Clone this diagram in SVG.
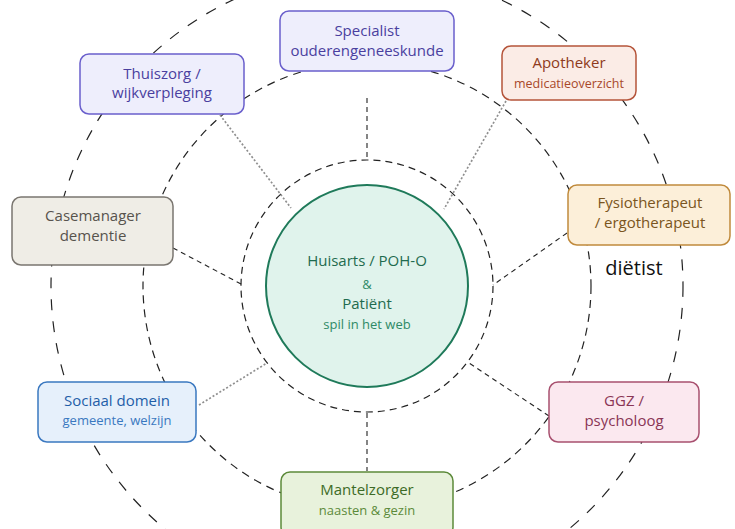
<svg xmlns="http://www.w3.org/2000/svg" width="735" height="529" viewBox="0 0 735 529">
<style>
text{font-family:"Open Sans","Noto Sans","Liberation Sans",sans-serif;text-anchor:middle}
.t{font-size:15px}
.s{font-size:13px}
.ring{fill:none;stroke:#222;stroke-width:1.2}
.dash{fill:none;stroke:#222;stroke-width:1.1;stroke-dasharray:5 4}
.dot{fill:none;stroke:#8f8f8f;stroke-width:1.7;stroke-dasharray:2 2}
.box{stroke-width:1.5}
</style>
<rect width="735" height="529" fill="#fff"/>
<g id="rings">
<circle class="ring" cx="367" cy="286" r="316" stroke-dasharray="11 11"/>
<circle class="ring" cx="367" cy="286" r="224" stroke-dasharray="8 6"/>
<circle class="ring" cx="367" cy="286" r="126" stroke-dasharray="7 5"/>
</g>
<g id="connectors">
<line class="dash" x1="367" y1="98" x2="367" y2="160"/>
<line class="dash" x1="367" y1="413" x2="367" y2="471"/>
<line class="dot" x1="220" y1="115" x2="291" y2="208"/>
<line class="dot" x1="506" y1="101" x2="444" y2="209"/>
<line class="dash" x1="173" y1="248" x2="243" y2="285"/>
<line class="dash" x1="567" y1="233" x2="493" y2="285"/>
<line class="dot" x1="199" y1="405" x2="267" y2="363"/>
<line class="dash" x1="549" y1="416" x2="469" y2="363"/>
</g>
<g id="center">
<circle cx="367" cy="286" r="101" fill="#e0f3ec" stroke="#1f7a5a" stroke-width="2"/>
<text class="t" x="367" y="266" fill="#1f6b4f">Huisarts / POH-O</text>
<text class="s" x="367" y="289" fill="#2e8a66">&amp;</text>
<text class="t" x="367" y="309" fill="#1f6b4f">Patiënt</text>
<text class="s" x="367" y="329" fill="#2e8a66">spil in het web</text>
</g>
<g id="specialist">
<rect class="box" x="280" y="11" width="174" height="60" rx="9" fill="#eeeefc" stroke="#6a5fcc"/>
<text class="t" x="367" y="36" fill="#4a3f9f">Specialist</text>
<text class="t" x="367" y="56" fill="#4a3f9f">ouderengeneeskunde</text>
</g>
<g id="apotheker">
<rect class="box" x="502" y="46" width="134" height="54" rx="9" fill="#fbece6" stroke="#b5543a"/>
<text class="t" x="569" y="68" fill="#8e3a20">Apotheker</text>
<text x="569" y="88" font-size="12.5" fill="#a8482a">medicatieoverzicht</text>
</g>
<g id="thuiszorg">
<rect class="box" x="80" y="54" width="164" height="60" rx="9" fill="#eeeefc" stroke="#6a5fcc"/>
<text class="t" x="162" y="79" fill="#4a3f9f">Thuiszorg /</text>
<text class="t" x="162" y="98" fill="#4a3f9f">wijkverpleging</text>
</g>
<g id="casemanager">
<rect class="box" x="12" y="197" width="161" height="68" rx="9" fill="#efede6" stroke="#7a7670"/>
<text class="t" x="93" y="221" fill="#57534d">Casemanager</text>
<text class="t" x="93" y="241" fill="#57534d">dementie</text>
</g>
<g id="fysiotherapeut">
<rect class="box" x="568" y="185" width="162" height="60" rx="9" fill="#fcefd9" stroke="#c08a3c"/>
<text class="t" x="650" y="208" fill="#7a5520">Fysiotherapeut</text>
<text class="t" x="650" y="228" fill="#7a5520">/ ergotherapeut</text>
</g>
<g id="dietist">
<text x="634" y="275" font-size="20" fill="#111">diëtist</text>
</g>
<g id="sociaal">
<rect class="box" x="38" y="382" width="158" height="60" rx="9" fill="#e6f0fb" stroke="#3a78c0"/>
<text class="t" x="117" y="406" fill="#1f5ea8">Sociaal domein</text>
<text class="s" x="117" y="425" fill="#3a78c0">gemeente, welzijn</text>
</g>
<g id="ggz">
<rect class="box" x="549" y="382" width="150" height="60" rx="9" fill="#fbe8ef" stroke="#a8506f"/>
<text class="t" x="624" y="406" fill="#8a3555">GGZ /</text>
<text class="t" x="624" y="426" fill="#8a3555">psycholoog</text>
</g>
<g id="mantelzorger">
<rect class="box" x="281" y="472" width="172" height="64" rx="9" fill="#e8f2dc" stroke="#5c8a3a"/>
<text class="t" x="367" y="495" fill="#3d6b26">Mantelzorger</text>
<text class="s" x="367" y="515" fill="#5c8a3a">naasten &amp; gezin</text>
</g>
</svg>
